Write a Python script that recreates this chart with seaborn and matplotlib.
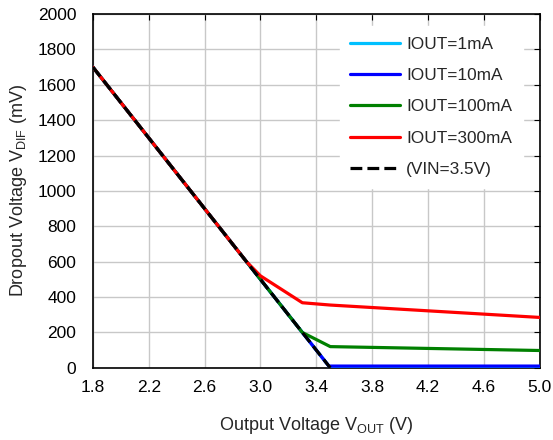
import pandas as pd
import seaborn as sns
from matplotlib import pyplot as plt

# values (VOUT in V, VDIF in mV)
vout_1ma = [1.8, 3.5, 3.52, 5.0]
vdif_1ma = [1700, 0, 5, 5]
vout_10ma = [1.8, 3.49, 3.52, 5.0]
vdif_10ma = [1700, 10, 10, 10]
vout_100ma = [1.8, 3.3, 3.5, 5.0]
vdif_100ma = [1700, 200, 120, 98]
vout_300ma = [1.8, 2.9, 3.0, 3.3, 3.5, 5.0]
vdif_300ma = [1700, 600, 520, 368, 355, 285]
vout_vin = [1.8, 3.5]
vdif_vin = [1700, 0]

labels = ["IOUT=1mA", "IOUT=10mA", "IOUT=100mA", "IOUT=300mA", "(VIN=3.5V)"]
colors = ["#00c0ff", "#0000ff", "#008000", "#ff0000", "#000000"]
xticks = [1.8, 2.2, 2.6, 3.0, 3.4, 3.8, 4.2, 4.6, 5.0]
yticks = list(range(0, 2001, 200))

sns.set_style("white")
plt.rcParams["font.family"] = ["Liberation Sans", "DejaVu Sans"]
plt.rcParams["mathtext.fontset"] = "custom"
plt.rcParams["mathtext.rm"] = "Liberation Sans"

fig = plt.figure(figsize=(5.53, 4.40), dpi=100)
ax = fig.add_axes([0.168, 0.164, 0.808, 0.804])

series = [(vout_1ma, vdif_1ma), (vout_10ma, vdif_10ma), (vout_100ma, vdif_100ma),
          (vout_300ma, vdif_300ma), (vout_vin, vdif_vin)]
for (x, y), lab, c in zip(series, labels, colors):
    df = pd.DataFrame({"x": x, "y": y})
    ls = "--" if lab.startswith("(") else "-"
    sns.lineplot(data=df, x="x", y="y", ax=ax, color=c, lw=2.3, ls=ls,
                 label=lab, sort=False, zorder=3)

ax.set_xlim(1.8, 5.0)
ax.set_ylim(0, 2000)
ax.set_xticks(xticks)
ax.set_xticklabels([f"{t:.1f}" for t in xticks])
ax.set_yticks(yticks)
ax.grid(True, color="#c8c8c8", lw=1)
ax.tick_params(direction="in", length=4, labelsize=12.5, colors="black",
               top=True, right=True)
ax.tick_params(axis="x", pad=9)
ax.tick_params(axis="y", pad=12)
for s in ax.spines.values():
    s.set_color("black")
    s.set_linewidth(1.2)

ax.set_xlabel(r"Output Voltage V$_{\mathrm{OUT}}$ (V)", fontsize=13, labelpad=14)
ax.set_ylabel(r"Dropout Voltage V$_{\mathrm{DIF}}$ (mV)", fontsize=13, labelpad=6)

leg = ax.legend(loc="upper right", frameon=True, fontsize=12.4, handlelength=2.9,
                labelspacing=0.95, borderpad=0.6, handletextpad=0.35,
                bbox_to_anchor=(0.981, 0.99), fancybox=False)
leg.get_frame().set_edgecolor("white")
leg.get_frame().set_alpha(1)

plt.savefig("out.png", dpi=100)
plt.close()
